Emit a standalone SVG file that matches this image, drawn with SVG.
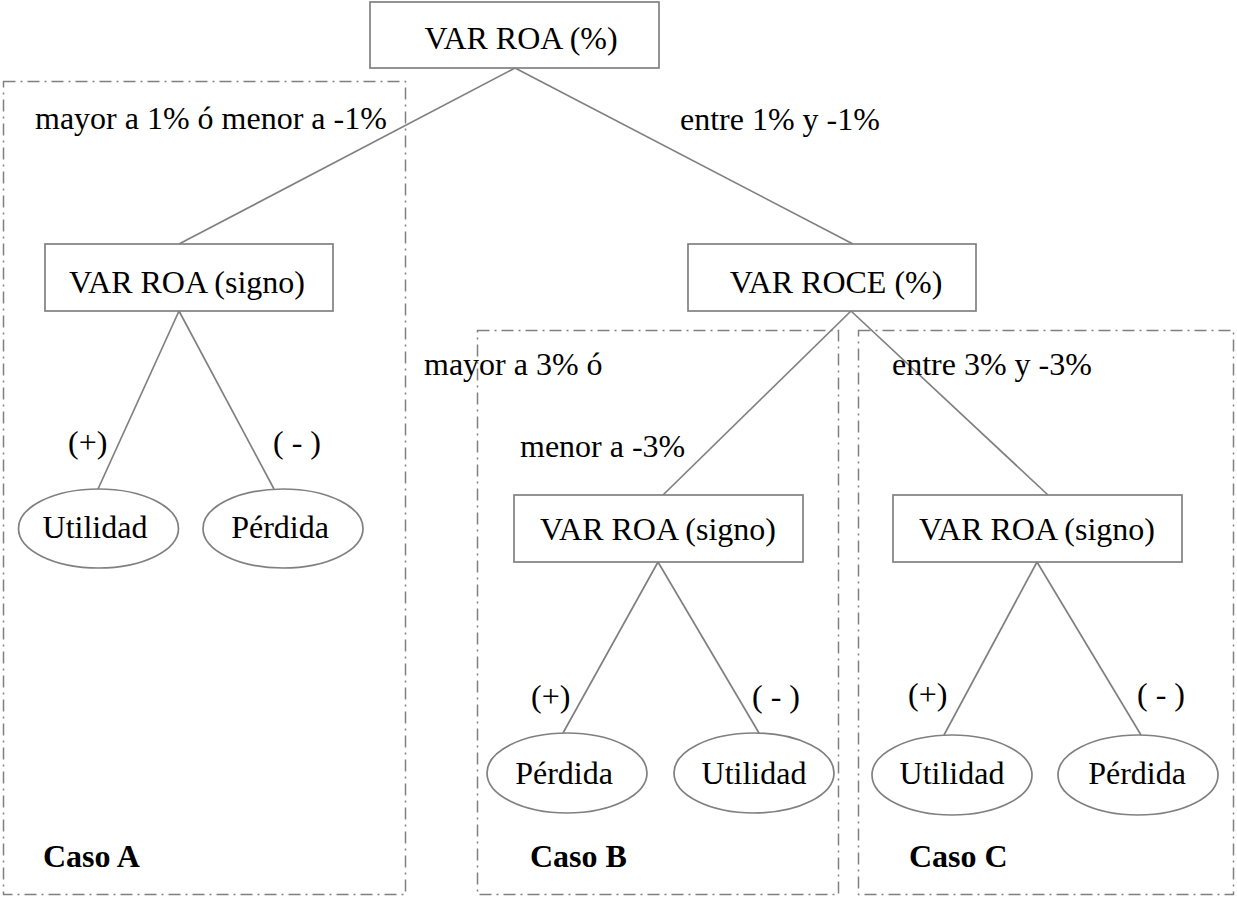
<svg xmlns="http://www.w3.org/2000/svg" width="1237" height="898" viewBox="0 0 1237 898">
<style>
  .box{fill:#fff;stroke:#808080;stroke-width:1.7}
  .ell{fill:#fff;stroke:#808080;stroke-width:1.7}
  .zone{fill:none;stroke:#808080;stroke-width:1.5;stroke-dasharray:12 5 2 5}
  .edge{stroke:#808080;stroke-width:1.7;fill:none}
  text{font-family:"Liberation Serif","Times New Roman",serif;font-size:32px;fill:#000}
  .c{text-anchor:middle}
  .b{font-weight:bold}
</style>
<rect width="1237" height="898" fill="#fff"/>
<g id="zones">
  <rect id="zoneA" class="zone" x="3.5" y="81.5" width="402" height="813"/>
  <rect id="zoneB" class="zone" x="477.5" y="330.5" width="361" height="564"/>
  <rect id="zoneC" class="zone" x="858.5" y="330.5" width="375" height="564"/>
</g>
<g id="connectors">
  <line class="edge" x1="515" y1="68" x2="179" y2="244"/>
  <line class="edge" x1="515" y1="68" x2="853" y2="244"/>
  <line class="edge" x1="179" y1="311" x2="98" y2="489"/>
  <line class="edge" x1="179" y1="311" x2="274" y2="489"/>
  <line class="edge" x1="851" y1="311" x2="663" y2="495"/>
  <line class="edge" x1="851" y1="311" x2="1048" y2="495"/>
  <line class="edge" x1="658" y1="562" x2="563" y2="733"/>
  <line class="edge" x1="658" y1="562" x2="759" y2="733"/>
  <line class="edge" x1="1037" y1="562" x2="944" y2="735"/>
  <line class="edge" x1="1037" y1="562" x2="1141" y2="735"/>
</g>
<g id="labels">
  <text x="35" y="129">mayor a 1% ó menor a -1%</text>
  <text x="680" y="130">entre 1% y -1%</text>
  <text x="424" y="375">mayor a 3% ó</text>
  <text x="520" y="457">menor a -3%</text>
  <text x="892" y="375">entre 3% y -3%</text>
  <text x="68" y="453">(+)</text>
  <text x="273" y="453">( - )</text>
  <text x="531" y="707">(+)</text>
  <text x="752" y="707">( - )</text>
  <text x="908" y="705">(+)</text>
  <text x="1137" y="705">( - )</text>
  <text class="b" x="43" y="867">Caso A</text>
  <text class="b" x="530" y="867">Caso B</text>
  <text class="b" x="909" y="867">Caso C</text>
</g>
<g id="root">
  <rect class="box" x="370" y="2" width="289" height="66"/>
  <text class="c" x="521" y="49">VAR ROA (%)</text>
</g>
<g id="roaSignoA">
  <rect class="box" x="45" y="244" width="288" height="67"/>
  <text class="c" x="187" y="293">VAR ROA (signo)</text>
</g>
<g id="roce">
  <rect class="box" x="688" y="244" width="288" height="67"/>
  <text class="c" x="836" y="293">VAR ROCE (%)</text>
</g>
<g id="roaSignoB">
  <rect class="box" x="514" y="495" width="289" height="67"/>
  <text class="c" x="658" y="540">VAR ROA (signo)</text>
</g>
<g id="roaSignoC">
  <rect class="box" x="893" y="495" width="289" height="67"/>
  <text class="c" x="1037" y="540">VAR ROA (signo)</text>
</g>
<g id="utilidadA">
  <ellipse class="ell" cx="98.5" cy="528.5" rx="80" ry="39.5"/>
  <text class="c" x="95" y="538">Utilidad</text>
</g>
<g id="perdidaA">
  <ellipse class="ell" cx="283" cy="528.5" rx="80" ry="39.5"/>
  <text class="c" x="280" y="538">Pérdida</text>
</g>
<g id="perdidaB">
  <ellipse class="ell" cx="567" cy="773" rx="80" ry="40"/>
  <text class="c" x="564" y="784">Pérdida</text>
</g>
<g id="utilidadB">
  <ellipse class="ell" cx="754" cy="773" rx="80" ry="40"/>
  <text class="c" x="754" y="784">Utilidad</text>
</g>
<g id="utilidadC">
  <ellipse class="ell" cx="952" cy="775" rx="80" ry="40"/>
  <text class="c" x="952" y="784">Utilidad</text>
</g>
<g id="perdidaC">
  <ellipse class="ell" cx="1138" cy="775" rx="80" ry="40"/>
  <text class="c" x="1137" y="784">Pérdida</text>
</g>
</svg>
